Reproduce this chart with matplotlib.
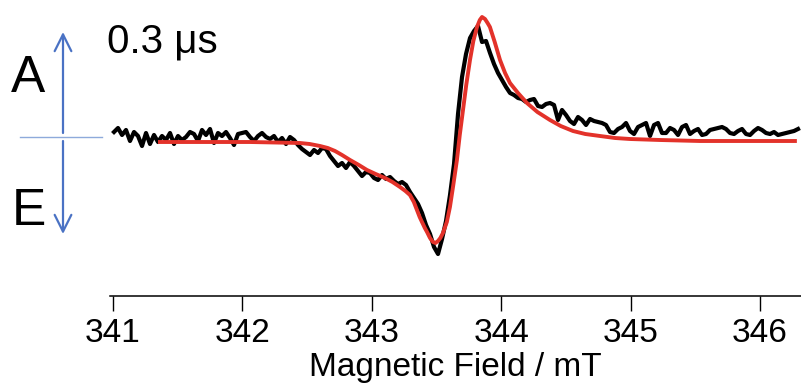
import matplotlib
matplotlib.use('Agg')
import matplotlib.pyplot as plt
import numpy as np
from matplotlib.lines import Line2D

plt.rcParams['font.family'] = ['Liberation Sans', 'DejaVu Sans']

# experimental trace (black), evenly spaced field sweep
field_start = 341.008
field_end = 346.294
exp_signal = [
    5, 9, 2, 7, -4, 5, 1, -9, 4, -7,
    2, -5, 1, -3, 4, -7, 1, -3, 0, 5,
    3, -4, 7, 2, 8, -6, 4, 1, 5, -1,
    -8, 3, 4, 5, 0, -4, 1, 4, 0, -2,
    1, -5, -1, -7, 0, -3, -8, -12, -15, -18,
    -13, -16, -11, -12, -19, -24, -29, -26, -31, -25,
    -29, -34, -39, -35, -36, -41, -43, -38, -42, -40,
    -44, -47, -45, -48, -55, -61, -67, -76, -88, -97,
    -110, -117, -102, -84, -58, -27, 23, 60, 83, 99,
    106, 111, 95, 96, 84, 73, 64, 57, 50, 44,
    42, 39, 38, 35, 37, 38, 31, 30, 33, 34,
    32, 17, 27, 22, 16, 13, 20, 17, 12, 18,
    16, 15, 14, 12, 5, 4, 8, 10, 14, 6,
    3, 10, 12, 14, 1, 12, 14, 4, 4, 9,
    7, 2, 10, 12, 3, 6, 8, 2, 3, 7,
    8, 9, 10, 8, 4, 3, 6, 8, 3, 2,
    6, 9, 7, 4, 3, 5, 2, 3, 4, 5,
    6, 8,
]

# simulated spectrum (red)
sim_field = [341.363, 341.672, 342.059, 342.445, 342.520, 342.600, 342.660,
             342.716, 342.770, 342.832, 342.900, 342.963, 343.030, 343.102,
             343.160, 343.218, 343.260, 343.295, 343.325, 343.349, 343.370,
             343.388, 343.410, 343.427, 343.450, 343.473, 343.492, 343.512,
             343.530, 343.550, 343.580, 343.604, 343.630, 343.658, 343.680,
             343.705, 343.730, 343.759, 343.785, 343.813, 343.835, 343.852,
             343.875, 343.895, 343.913, 343.950, 343.991, 344.030, 344.068,
             344.130, 344.199, 344.280, 344.377, 344.460, 344.555, 344.650,
             344.764, 344.880, 344.995, 345.227, 345.536, 345.923, 346.270]
sim_signal = [-5, -5, -5, -6, -7, -9, -11,
              -14, -18, -23, -28, -33, -37, -41,
              -45, -50, -54, -58, -65, -73, -80,
              -85, -91, -95, -101, -105, -106, -104,
              -101, -96, -85, -70, -48, -23, 2,
              27, 52, 77, 96, 110, 117, 120,
              118, 114, 110, 95, 77, 64, 54,
              44, 34, 25, 17, 11, 6, 3,
              1, -1, -2, -3, -4, -4, -4]

ticks = [341, 342, 343, 344, 345, 346]
xlabel = 'Magnetic Field / mT'
delay_label = '0.3 \u03bcs'


def main():
  fig = plt.figure(figsize=(8.01, 3.90), dpi=100)
  ax = fig.add_axes([110/801, 94/390, 691/801, 296/390])

  exp_field = np.linspace(field_start, field_end, len(exp_signal))
  ax.plot(exp_field, exp_signal, color='black', lw=3, solid_joinstyle='round')
  ax.plot(sim_field, sim_signal, color='#e3322a', lw=2.8, solid_joinstyle='round')

  ax.set_xlim(340.977, 346.317)
  ax.set_ylim(-159, 137)
  for s in ['top', 'left', 'right']:
    ax.spines[s].set_visible(False)
  ax.spines['bottom'].set_linewidth(1.1)
  ax.set_yticks([])
  ax.set_xticks(ticks)
  ax.set_xticklabels([str(t) for t in ticks])
  ax.tick_params(axis='x', length=11, width=1, pad=5, labelsize=24)
  ax.set_xlabel(xlabel, fontsize=24, labelpad=2)

  # labels and arrows on the left
  fig.text(107/801, 1 - 52/390, delay_label, fontsize=29, va='baseline')
  fig.text(11/801, 1 - 92/390, 'A', fontsize=37, va='baseline')
  fig.text(12/801, 1 - 225/390, 'E', fontsize=37, va='baseline')

  fig.add_artist(Line2D([20/801, 102/801], [1 - 137/390, 1 - 137/390],
                        color='#8eaadb', lw=1))
  arrow = dict(arrowstyle='->,head_length=1.2,head_width=0.6', color='#4a72c4',
               lw=1.6, shrinkA=0, shrinkB=0, mutation_scale=10)
  ax.annotate('', xy=(63/801, 1 - 32/390), xytext=(63/801, 1 - 133/390),
              xycoords='figure fraction', arrowprops=arrow, annotation_clip=False)
  ax.annotate('', xy=(63/801, 1 - 234/390), xytext=(63/801, 1 - 141/390),
              xycoords='figure fraction', arrowprops=arrow, annotation_clip=False)

  fig.savefig('out.png', dpi=100)


if __name__ == '__main__':
  main()
